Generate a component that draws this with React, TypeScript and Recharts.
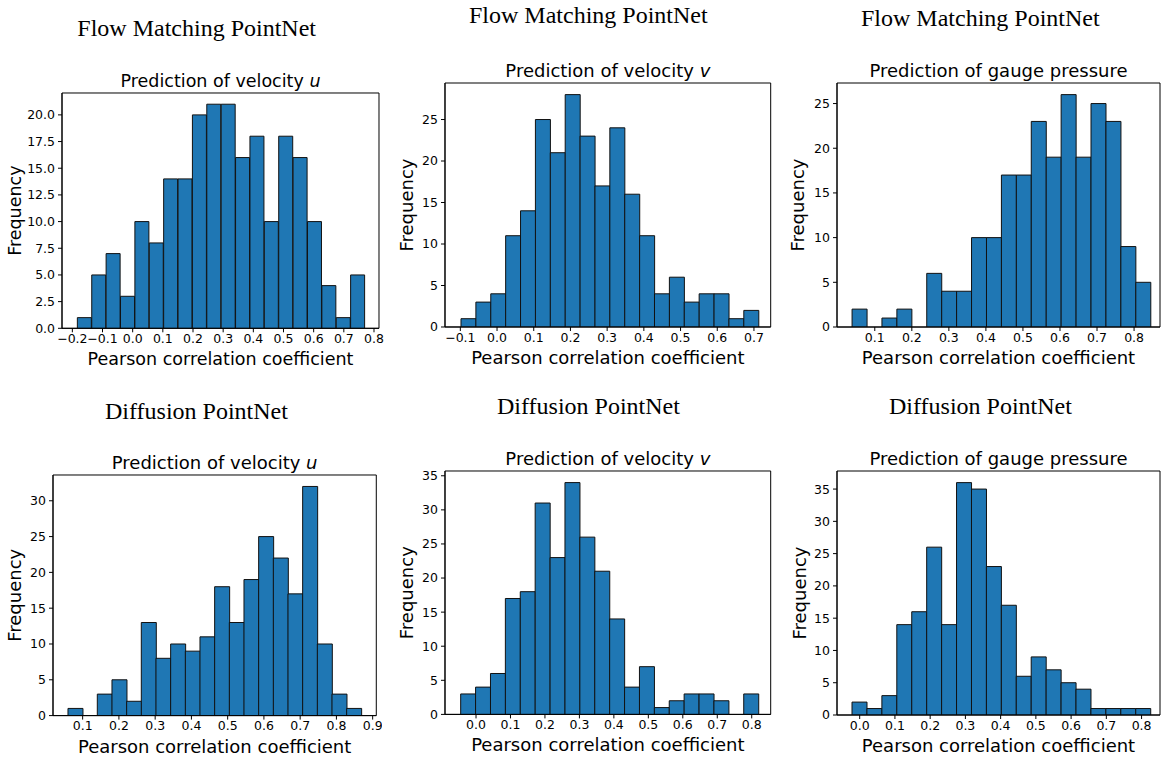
import React from "react";
import { BarChart, Bar, XAxis, YAxis, ReferenceArea } from "recharts";

// counts per bin (20 bins each)
const fmU = [1, 5, 7, 3, 10, 8, 14, 14, 20, 21, 21, 16, 18, 10, 18, 16, 10, 4, 1, 5];
const fmV = [1, 3, 4, 11, 14, 25, 21, 28, 23, 17, 24, 16, 11, 4, 6, 3, 4, 4, 1, 2];
const fmP = [2, 0, 1, 2, 0, 6, 4, 4, 10, 10, 17, 17, 23, 19, 26, 19, 25, 23, 9, 5];
const dfU = [1, 0, 3, 5, 2, 13, 8, 10, 9, 11, 18, 13, 19, 25, 22, 17, 32, 10, 3, 1];
const dfV = [3, 4, 6, 17, 18, 31, 23, 34, 26, 21, 14, 4, 7, 1, 2, 3, 3, 2, 0, 3];
const dfP = [2, 1, 3, 14, 16, 26, 14, 36, 35, 23, 17, 6, 9, 7, 5, 4, 1, 1, 1, 1];

// first and last bin edge of each histogram
const fmURange = [-0.1834, 0.7702];
const fmVRange = [-0.0982, 0.7129];
const fmPRange = [0.0387, 0.845];
const dfURange = [0.0595, 0.8687];
const dfVRange = [-0.0445, 0.82];
const dfPRange = [-0.0218, 0.8258];

// x tick labels
const xTicksFmU = [-0.2, -0.1, 0, 0.1, 0.2, 0.3, 0.4, 0.5, 0.6, 0.7, 0.8];
const xTicksFmV = [-0.1, 0, 0.1, 0.2, 0.3, 0.4, 0.5, 0.6, 0.7];
const xTicksFmP = [0.1, 0.2, 0.3, 0.4, 0.5, 0.6, 0.7, 0.8];
const xTicksDfU = [0.1, 0.2, 0.3, 0.4, 0.5, 0.6, 0.7, 0.8, 0.9];
const xTicksDfV = [0, 0.1, 0.2, 0.3, 0.4, 0.5, 0.6, 0.7, 0.8];
const xTicksDfP = [0, 0.1, 0.2, 0.3, 0.4, 0.5, 0.6, 0.7, 0.8];

// y tick labels
const yTicksFmU = [0, 2.5, 5, 7.5, 10, 12.5, 15, 17.5, 20];
const yTicksFmV = [0, 5, 10, 15, 20, 25];
const yTicksFmP = [0, 5, 10, 15, 20, 25];
const yTicksDfU = [0, 5, 10, 15, 20, 25, 30];
const yTicksDfV = [0, 5, 10, 15, 20, 25, 30, 35];
const yTicksDfP = [0, 5, 10, 15, 20, 25, 30, 35];

const BLUE = "#1f77b4";
const SANS = "DejaVu Sans, sans-serif";
const SERIF = "Liberation Serif, Times New Roman, serif";

const YW = 60; // y axis area
const XH = 45; // x axis area
const PT = 30; // space above the axes for the title
const PR = 6;

const fmtX = (v: number) => (v < 0 ? "\u2212" : "") + Math.abs(v).toFixed(1);

type Spec = {
  counts: number[];
  range: number[];
  xDomain: number[];
  xTicks: number[];
  yDomain: number[];
  yTicks: number[];
  yFmt: (v: number) => string;
  box: number[]; // axes frame: left, top, width, height
  sym?: string;
  yLabelOff: number;
  fs: number;
};

const toRows = (counts: number[], range: number[]) => {
  const step = (range[1] - range[0]) / counts.length;
  return counts.map((count, i) => ({ x: range[0] + (i + 0.5) * step, count }));
};

const Panel = ({ spec }: { spec: Spec }) => {
  const [bx, by, bw, bh] = spec.box;
  const W = bw + YW + PR;
  const H = bh + PT + XH;
  const rows = toRows(spec.counts, spec.range);
  const tick = { fontSize: 12.5, fill: "#000", fontFamily: SANS };
  return (
    <div style={{ position: "absolute", left: bx - YW, top: by - PT, width: W, height: H }}>
      <BarChart
        width={W}
        height={H}
        data={rows}
        margin={{ top: PT, right: PR, bottom: 0, left: 0 }}
        barCategoryGap={0}
        barGap={0}
      >
        <XAxis
          type="number"
          dataKey="x"
          domain={spec.xDomain}
          ticks={spec.xTicks}
          allowDataOverflow
          interval={0}
          tickFormatter={fmtX}
          tick={tick}
          tickSize={4}
          tickMargin={2}
          height={XH}
          axisLine={{ stroke: "#000" }}
          tickLine={{ stroke: "#000" }}
        />
        <YAxis
          type="number"
          domain={spec.yDomain}
          ticks={spec.yTicks}
          allowDataOverflow
          interval={0}
          tickFormatter={spec.yFmt}
          tick={tick}
          tickSize={4}
          tickMargin={3}
          width={YW}
          axisLine={{ stroke: "#000" }}
          tickLine={{ stroke: "#000" }}
        />
        {/* axes frame (top and right spines) */}
        <ReferenceArea
          x1={spec.xDomain[0]}
          x2={spec.xDomain[1]}
          y1={spec.yDomain[0]}
          y2={spec.yDomain[1]}
          fill="none"
          stroke="#000"
          strokeWidth={1}
          ifOverflow="visible"
        />
        <Bar dataKey="count" fill={BLUE} stroke="#111" strokeWidth={1} isAnimationActive={false} />
      </BarChart>
      <svg
        width={W}
        height={H}
        style={{ position: "absolute", left: 0, top: 0, pointerEvents: "none", overflow: "visible" }}
        fontFamily={SANS}
        fill="#000"
      >
        <text x={YW + bw / 2} y={PT - 6} fontSize={spec.fs} textAnchor="middle">
          {spec.sym ? "Prediction of velocity " : "Prediction of gauge pressure"}
          {spec.sym ? <tspan fontStyle="italic">{spec.sym}</tspan> : null}
        </text>
        <text x={YW + bw / 2} y={PT + bh + 37} fontSize={spec.fs} textAnchor="middle">
          Pearson correlation coefficient
        </text>
        <text
          x={YW - spec.yLabelOff}
          y={PT + bh / 2}
          fontSize={spec.fs}
          textAnchor="middle"
          transform={`rotate(-90 ${YW - spec.yLabelOff} ${PT + bh / 2})`}
        >
          Frequency
        </text>
      </svg>
    </div>
  );
};

const fmt1 = (v: number) => v.toFixed(1);
const fmt0 = (v: number) => String(v);

const panels: Spec[] = [
  { counts: fmU, range: fmURange, xDomain: [-0.2343, 0.8166], xTicks: xTicksFmU, yDomain: [0, 22.05], yTicks: yTicksFmU, yFmt: fmt1, box: [62.3, 93, 317, 235.3], sym: "u", yLabelOff: 41, fs: 17.5 },
  { counts: fmV, range: fmVRange, xDomain: [-0.1418, 0.7456], xTicks: xTicksFmV, yDomain: [0, 29.4], yTicks: yTicksFmV, yFmt: fmt0, box: [445, 82.7, 325.7, 244], sym: "v", yLabelOff: 32, fs: 18 },
  { counts: fmP, range: fmPRange, xDomain: [-0.002, 0.87], xTicks: xTicksFmP, yDomain: [0, 27.3], yTicks: yTicksFmP, yFmt: fmt0, box: [837.3, 82.7, 323, 244], yLabelOff: 33, fs: 18 },
  { counts: dfU, range: dfURange, xDomain: [0.0182, 0.91], xTicks: xTicksDfU, yDomain: [0, 33.6], yTicks: yTicksDfU, yFmt: fmt0, box: [52.7, 474.7, 323.3, 240.6], sym: "u", yLabelOff: 32, fs: 18 },
  { counts: dfV, range: dfVRange, xDomain: [-0.09, 0.855], xTicks: xTicksDfV, yDomain: [0, 35.7], yTicks: yTicksDfV, yFmt: fmt0, box: [445, 471.3, 325.7, 243.4], sym: "v", yLabelOff: 32, fs: 18 },
  { counts: dfP, range: dfPRange, xDomain: [-0.0644, 0.8523], xTicks: xTicksDfP, yDomain: [0, 37.8], yTicks: yTicksDfP, yFmt: fmt0, box: [837.3, 470.7, 323, 244], yLabelOff: 31, fs: 18 },
];

const headings = [
  { text: "Flow Matching PointNet", x: 77.3, y: 35.5 },
  { text: "Flow Matching PointNet", x: 469, y: 23 },
  { text: "Flow Matching PointNet", x: 861, y: 26 },
  { text: "Diffusion PointNet", x: 105, y: 419 },
  { text: "Diffusion PointNet", x: 497, y: 414 },
  { text: "Diffusion PointNet", x: 889, y: 414 },
];

export default function App() {
  return (
    <div style={{ position: "absolute", left: 0, top: 0, width: 1166, height: 757, background: "#fff" }}>
      <svg width={1166} height={757} style={{ position: "absolute", left: 0, top: 0 }}>
        {headings.map((h, i) => (
          <text key={i} x={h.x} y={h.y} fontFamily={SERIF} fontSize={24} fill="#000">
            {h.text}
          </text>
        ))}
      </svg>
      {panels.map((p, i) => (
        <Panel key={i} spec={p} />
      ))}
    </div>
  );
}
